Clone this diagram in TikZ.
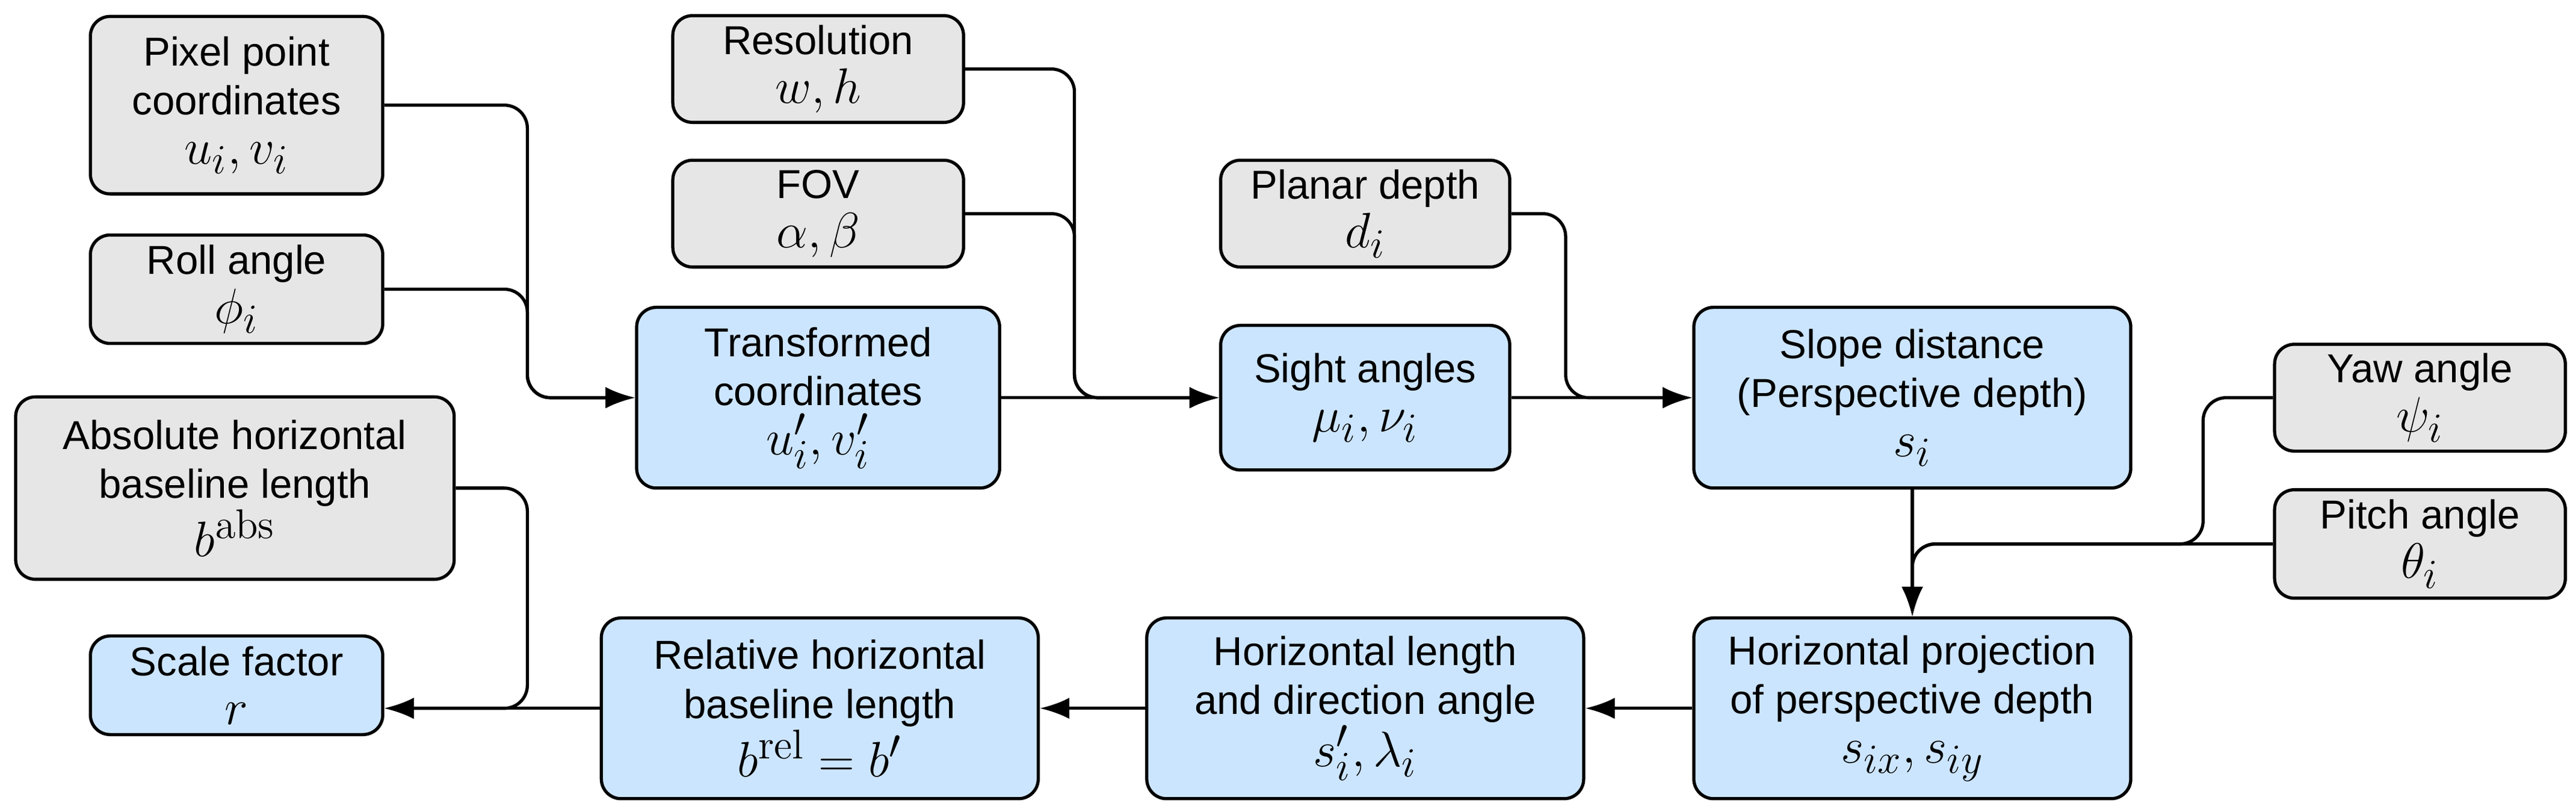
\documentclass[tikz,border=0pt]{standalone}
\usepackage[no-math]{fontspec}
\setmainfont{Liberation Sans}
\usetikzlibrary{positioning, arrows.meta}
\definecolor{boxgray}{HTML}{E6E6E6}
\definecolor{boxblue}{HTML}{CCE5FF}
\newcommand{\mth}[1]{{\fontsize{19}{21}\selectfont$#1$}}
\tikzset{
  box/.style={draw, line width=1.1pt, rounded corners=0.24cm, align=center,
    font=\fontsize{14}{17}\selectfont, inner sep=2pt},
  inp/.style={box, fill=boxgray},
  calc/.style={box, fill=boxblue},
  conn/.style={line width=1.1pt, rounded corners=0.28cm, -{Latex[length=3.6mm,width=2.6mm]}},
}
\begin{document}
\begin{tikzpicture}[x=0.02cm, y=-0.02cm]
        \useasboundingbox (0,0) rectangle (1568,492);

        % Entradas
        \node[inp, minimum width=3.56cm, minimum height=2.16cm] (pix) at (144,64) {Pixel point\\coordinates\\\mth{u_i, v_i}};
        \node[inp, minimum width=3.56cm, minimum height=1.32cm] (roll) at (144,176) {Roll angle\\\mth{\phi_i}};
        \node[inp, minimum width=5.34cm, minimum height=2.22cm] (abs) at (143,297) {Absolute horizontal\\baseline length\\\mth{b^{\mathrm{abs}}}};
        \node[inp, minimum width=3.54cm, minimum height=1.30cm] (res) at (498,42) {Resolution\\\mth{w, h}};
        \node[inp, minimum width=3.54cm, minimum height=1.30cm] (fov) at (498,130) {FOV\\\mth{\alpha, \beta}};
        \node[inp, minimum width=3.52cm, minimum height=1.30cm] (pd) at (831,130) {Planar depth\\\mth{d_i}};
        \node[inp, minimum width=3.54cm, minimum height=1.30cm] (yaw) at (1473,242) {Yaw angle\\\mth{\psi_i}};
        \node[inp, minimum width=3.54cm, minimum height=1.32cm] (pitch) at (1473,331) {Pitch angle\\\mth{\theta_i}};

        % Calculos
        \node[calc, minimum width=4.42cm, minimum height=2.20cm] (tr) at (498,242) {Transformed\\coordinates\\\mth{u_i', v_i'}};
        \node[calc, minimum width=3.52cm, minimum height=1.76cm] (sa) at (831,242) {Sight angles\\\mth{\mu_i, \nu_i}};
        \node[calc, minimum width=5.32cm, minimum height=2.20cm] (sd) at (1164,242) {Slope distance\\(Perspective depth)\\\mth{s_i}};
        \node[calc, minimum width=5.32cm, minimum height=2.20cm] (hp) at (1164,431) {Horizontal projection\\of perspective depth\\\mth{s_{ix}, s_{iy}}};
        \node[calc, minimum width=5.32cm, minimum height=2.20cm] (hl) at (831,431) {Horizontal length\\and direction angle\\\mth{s_i', \lambda_i}};
        \node[calc, minimum width=5.32cm, minimum height=2.20cm] (rel) at (499,431) {Relative horizontal\\baseline length\\\mth{b^{\mathrm{rel}} = b'}};
        \node[calc, minimum width=3.56cm, minimum height=1.20cm] (sf) at (144,417) {Scale factor\\\mth{r}};

        % Uniones
        \coordinate (j1) at (321,242);
        \coordinate (j2) at (654,242);
        \coordinate (j3) at (953,242);
        \coordinate (j4) at (1341,331);
        \coordinate (j5) at (1164,331);
        \coordinate (j6) at (321,431);

        % Conexiones
        \draw[conn] (pix.east) -| (j1) -- (tr.west);
        \draw[conn] (roll.east) -| (j1) -- (tr.west);
        \draw[conn] (res.east) -| (j2) -- (sa.west);
        \draw[conn] (fov.east) -| (j2) -- (sa.west);
        \draw[conn] (tr.east) -- (sa.west);
        \draw[conn] (pd.east) -| (j3) -- (sd.west);
        \draw[conn] (sa.east) -- (sd.west);
        \draw[conn] (sd.south) -- (hp.north);
        \draw[conn] (yaw.west) -| (j4) -- (j5) -- (hp.north);
        \draw[conn] (pitch.west) -- (j5) -- (hp.north);
        \draw[conn] (hp.west) -- (hl.east);
        \draw[conn] (hl.west) -- (rel.east);
        \draw[conn] (rel.west) -- (sf.east |- rel.west);
        \draw[conn] (abs.east) -| (j6) -- (sf.east |- j6);
    \end{tikzpicture}
\end{document}
